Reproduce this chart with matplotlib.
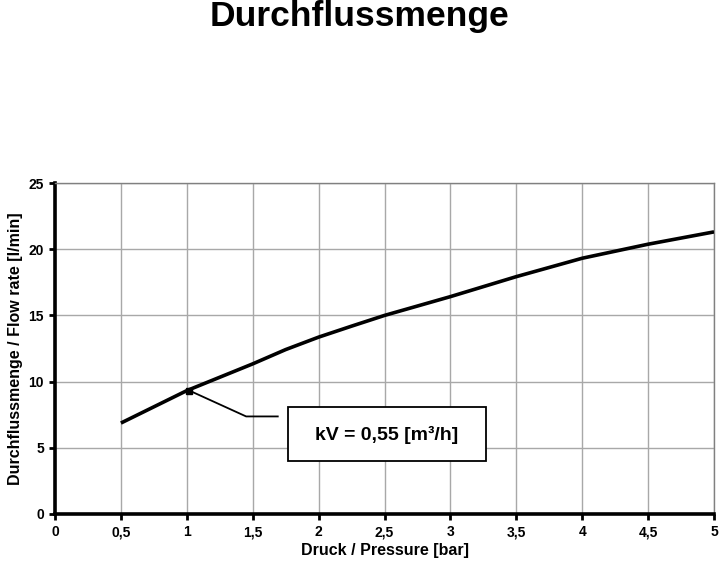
import matplotlib
matplotlib.use("Agg")
import matplotlib.pyplot as plt
from matplotlib.patches import Rectangle
from matplotlib.ticker import FuncFormatter

plt.rcParams["font.family"] = ["Liberation Sans", "DejaVu Sans"]

# --- donnees ---
druck = [0.5, 1.0, 1.5, 1.75, 2.0, 2.25, 2.5, 3.0, 3.5, 4.0, 4.5, 5.0]
durchfluss = [6.87, 9.32, 11.34, 12.42, 13.36, 14.19, 15.0, 16.42, 17.93, 19.32, 20.38, 21.31]
kv_point = (1.02, 9.32)
kv_text = "kV = 0,55 [m³/h]"
x_ticks = [0, 0.5, 1, 1.5, 2, 2.5, 3, 3.5, 4, 4.5, 5]
y_ticks = [0, 5, 10, 15, 20, 25]

fig = plt.figure(figsize=(7.2, 5.72), dpi=100)
ax = fig.add_axes([0.0764, 0.1014, 0.9153, 0.5786])

ax.plot(druck, durchfluss, color="black", lw=2.6, solid_capstyle="butt", zorder=3)

# annotation kV : point, ligne de rappel, cadre
ax.plot([kv_point[0]], [kv_point[1]], marker="s", ms=4, color="black", zorder=4)
ax.plot([kv_point[0], 1.45, 1.69], [kv_point[1], 7.37, 7.37], color="black", lw=1.3, zorder=3)
ax.add_patch(Rectangle((1.768, 3.97), 3.27 - 1.768, 8.07 - 3.97, fc="white", ec="black",
                       lw=1.3, zorder=5))
ax.text((1.768 + 3.27) / 2, 5.98, kv_text, ha="center", va="center", fontsize=14,
        fontweight="bold", zorder=6)

ax.set_xlim(0, 5)
ax.set_ylim(0, 25)
ax.set_xticks(x_ticks)
ax.set_yticks(y_ticks)
ax.xaxis.set_major_formatter(FuncFormatter(lambda v, p: f"{v:g}".replace(".", ",")))
ax.grid(True, color="#a8a8a8", lw=1.0)
ax.set_axisbelow(True)

for s in ("left", "bottom"):
    ax.spines[s].set_linewidth(2.6)
    ax.spines[s].set_color("black")
for s in ("top", "right"):
    ax.spines[s].set_linewidth(1.0)
    ax.spines[s].set_color("#808080")

ax.tick_params(axis="both", direction="out", length=4, width=2, labelsize=10, pad=4)
for lab in ax.get_xticklabels() + ax.get_yticklabels():
    lab.set_fontweight("bold")

ax.set_xlabel("Druck / Pressure [bar]", fontsize=11.5, fontweight="bold", va="center")
ax.set_ylabel("Durchflussmenge / Flow rate [l/min]", fontsize=11.5, fontweight="bold", va="center")
ax.xaxis.set_label_coords(0.5, -0.109)
ax.yaxis.set_label_coords(-0.0607, 0.5)

fig.text(0.5, 0.972, "Durchflussmenge", ha="center", va="center", fontsize=25.5, fontweight="bold")

fig.savefig("out.png", dpi=100)
